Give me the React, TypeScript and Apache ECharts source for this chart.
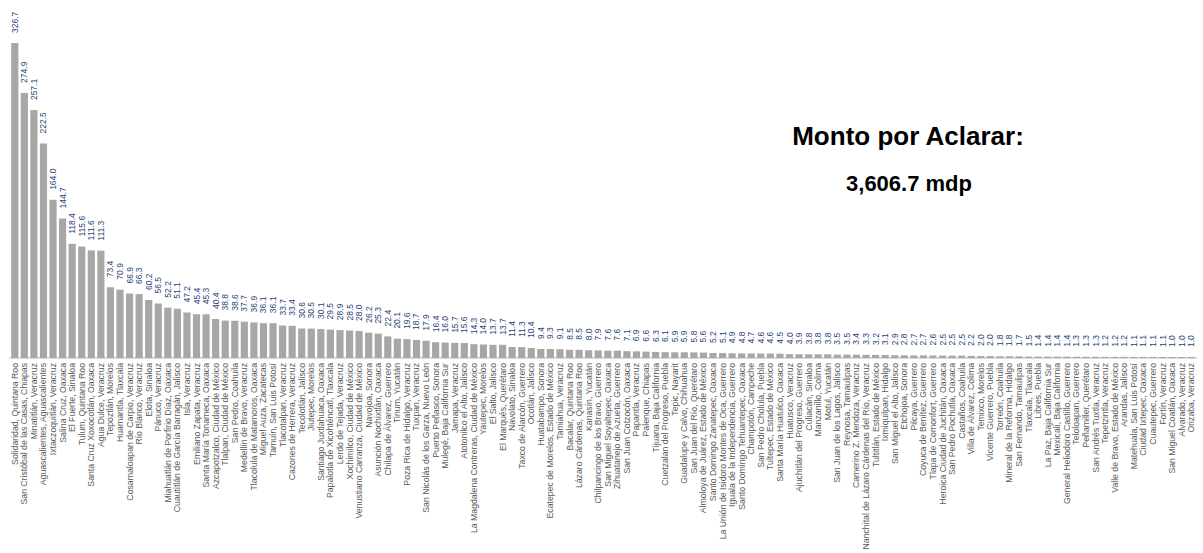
import React, { useEffect, useRef } from "react";
import * as echarts from "echarts";

// Municipalities, ordered by amount pending clarification (millions of pesos)
const municipios: string[] = [
  "Solidaridad, Quintana Roo",
  "San Cristóbal de las Casas, Chiapas",
  "Minatitlán, Veracruz",
  "Aguascalientes, Aguascalientes",
  "Ixtaczoquitlán, Veracruz",
  "Salina Cruz, Oaxaca",
  "El Fuerte, Sinaloa",
  "Tulum, Quintana Roo",
  "Santa Cruz Xoxocotlán, Oaxaca",
  "Agua Dulce, Veracruz",
  "Tepoztlán, Morelos",
  "Huamantla, Tlaxcala",
  "Cosamaloapan de Carpio, Veracruz",
  "Río Blanco, Veracruz",
  "Elota, Sinaloa",
  "Pánuco, Veracruz",
  "Miahuatlán de Porfirio Díaz, Oaxaca",
  "Cuautitlán de García Barragán, Jalisco",
  "Isla, Veracruz",
  "Emiliano Zapata, Veracruz",
  "Santa María Tonameca, Oaxaca",
  "Azcapotzalco, Ciudad de México",
  "Tlalpan, Ciudad de México",
  "San Pedro, Coahuila",
  "Medellín de Bravo, Veracruz",
  "Tlacolula de Matamoros, Oaxaca",
  "Miguel Auza, Zacatecas",
  "Tamuín, San Luis Potosí",
  "Tlacotalpan, Veracruz",
  "Cazones de Herrera, Veracruz",
  "Tecolotlán, Jalisco",
  "Jiutepec, Morelos",
  "Santiago Juxtlahuaca, Oaxaca",
  "Papalotla de Xicohténcatl, Tlaxcala",
  "Lerdo de Tejada, Veracruz",
  "Xochimilco, Ciudad de México",
  "Venustiano Carranza, Ciudad de México",
  "Navojoa, Sonora",
  "Asunción Nochixtlán, Oaxaca",
  "Chilapa de Álvarez, Guerrero",
  "Tinum, Yucatán",
  "Poza Rica de Hidalgo, Veracruz",
  "Tuxpan, Veracruz",
  "San Nicolás de los Garza, Nuevo León",
  "Puerto Peñasco, Sonora",
  "Mulegé, Baja California Sur",
  "Jamapa, Veracruz",
  "Atotonilco el Alto, Jalisco",
  "La Magdalena Contreras, Ciudad de México",
  "Yautepec, Morelos",
  "El Salto, Jalisco",
  "El Marqués, Querétaro",
  "Navolato, Sinaloa",
  "Taxco de Alarcón, Guerrero",
  "Ocotlán, Jalisco",
  "Huatabampo, Sonora",
  "Ecatepec de Morelos, Estado de México",
  "Tamiahua, Veracruz",
  "Bacalar, Quintana Roo",
  "Lázaro Cárdenas, Quintana Roo",
  "Kanasín, Yucatán",
  "Chilpancingo de los Bravo, Guerrero",
  "San Miguel Soyaltepec, Oaxaca",
  "Zihuatanejo de Azueta, Guerrero",
  "San Juan Cotzocón, Oaxaca",
  "Papantla, Veracruz",
  "Palenque, Chiapas",
  "Tijuana, Baja California",
  "Cuetzalan del Progreso, Puebla",
  "Tepic, Nayarit",
  "Guadalupe y Calvo, Chihuahua",
  "San Juan del Río, Querétaro",
  "Almoloya de Juárez, Estado de México",
  "Santo Domingo Zanatepec, Oaxaca",
  "La Unión de Isidoro Montes de Oca, Guerrero",
  "Iguala de la Independencia, Guerrero",
  "Santo Domingo Tehuantepec, Oaxaca",
  "Champotón, Campeche",
  "San Pedro Cholula, Puebla",
  "Tultepec, Estado de México",
  "Santa María Huatulco, Oaxaca",
  "Huatusco, Veracruz",
  "Ajuchitlán del Progreso, Guerrero",
  "Culiacán, Sinaloa",
  "Manzanillo, Colima",
  "Motul, Yucatán",
  "San Juan de los Lagos, Jalisco",
  "Reynosa, Tamaulipas",
  "Camerino Z. Mendoza, Veracruz",
  "Nanchital de Lázaro Cárdenas del Río, Veracruz",
  "Tultitlán, Estado de México",
  "Ixmiquilpan, Hidalgo",
  "San Miguel el Alto, Jalisco",
  "Etchojoa, Sonora",
  "Pilcaya, Guerrero",
  "Coyuca de Benítez, Guerrero",
  "Tlapa de Comonfort, Guerrero",
  "Heroica Ciudad de Juchitán, Oaxaca",
  "San Pedro Pochutla, Oaxaca",
  "Castaños, Coahuila",
  "Villa de Álvarez, Colima",
  "Temixco, Morelos",
  "Vicente Guerrero, Puebla",
  "Torreón, Coahuila",
  "Mineral de la Reforma, Hidalgo",
  "San Fernando, Tamaulipas",
  "Tlaxcala, Tlaxcala",
  "Libres, Puebla",
  "La Paz, Baja California Sur",
  "Mexicali, Baja California",
  "General Heliodoro Castillo, Guerrero",
  "Teloloapan, Guerrero",
  "Peñamiller, Querétaro",
  "San Andrés Tuxtla, Veracruz",
  "Tepetzintla, Veracruz",
  "Valle de Bravo, Estado de México",
  "Arandas, Jalisco",
  "Matehuala, San Luis Potosí",
  "Ciudad Ixtepec, Oaxaca",
  "Cuautepec, Guerrero",
  "Fortín, Veracruz",
  "San Miguel Coatlán, Oaxaca",
  "Alvarado, Veracruz",
  "Orizaba, Veracruz",
];

const montos: number[] = [
  326.7, 274.9, 257.1, 222.5, 164.0, 144.7, 118.4, 115.6, 111.6, 111.3,
  73.4, 70.9, 66.9, 66.3, 60.2, 56.5, 52.2, 51.1, 47.2, 45.4,
  45.3, 40.4, 38.8, 38.6, 37.7, 36.9, 36.1, 36.1, 33.7, 33.4,
  30.6, 30.5, 30.1, 29.5, 28.9, 28.5, 28.0, 26.2, 25.3, 22.4,
  20.1, 19.6, 18.7, 17.9, 16.4, 16.0, 15.7, 15.6, 14.3, 14.0,
  13.7, 13.7, 11.4, 11.3, 10.4, 9.4, 9.3, 9.1, 8.5, 8.5,
  8.0, 7.9, 7.6, 7.6, 7.1, 6.9, 6.6, 6.3, 6.1, 5.9,
  5.9, 5.8, 5.6, 5.2, 5.1, 4.9, 4.8, 4.7, 4.6, 4.6,
  4.5, 4.0, 3.9, 3.8, 3.8, 3.8, 3.5, 3.5, 3.4, 3.3,
  3.2, 3.1, 2.9, 2.8, 2.7, 2.7, 2.6, 2.5, 2.5, 2.5,
  2.2, 2.0, 2.0, 1.8, 1.8, 1.7, 1.5, 1.4, 1.4, 1.4,
  1.4, 1.3, 1.3, 1.3, 1.2, 1.2, 1.2, 1.1, 1.1, 1.1,
  1.1, 1.0, 1.0, 1.0,
];

const tituloLinea1 = "Monto por Aclarar:";
const tituloLinea2 = "3,606.7 mdp";

const FONT = "'Liberation Sans', Arial, sans-serif";

export default function App() {
  const ref = useRef<HTMLDivElement>(null);

  useEffect(() => {
    if (!ref.current) return;
    const chart = echarts.init(ref.current, undefined, { renderer: "svg" });
    chart.setOption({
      animation: false,
      backgroundColor: "#ffffff",
      grid: { left: 10, right: 7, top: 20.5, bottom: 195, containLabel: false },
      graphic: [
        {
          type: "text",
          x: 908,
          y: 136,
          style: {
            text: tituloLinea1,
            textAlign: "center",
            textVerticalAlign: "middle",
            fontFamily: FONT,
            fontSize: 26,
            fontWeight: "bold",
            fill: "#000000",
          },
        },
        {
          type: "text",
          x: 909,
          y: 183,
          style: {
            text: tituloLinea2,
            textAlign: "center",
            textVerticalAlign: "middle",
            fontFamily: FONT,
            fontSize: 22,
            fontWeight: "bold",
            fill: "#000000",
          },
        },
      ],
      xAxis: {
        type: "category",
        data: municipios,
        axisLine: { show: true, lineStyle: { color: "#d9d9d9", width: 2 } },
        axisTick: { show: false },
        axisLabel: {
          interval: 0,
          rotate: 90,
          margin: 5,
          fontFamily: FONT,
          fontSize: 8.7,
          color: "#595959",
        },
      },
      yAxis: {
        type: "value",
        min: 0,
        max: 350,
        show: false,
        splitLine: { show: false },
      },
      series: [
        {
          type: "bar",
          data: montos,
          barCategoryGap: "25%",
          itemStyle: { color: "#a9a6a6" },
          label: {
            show: true,
            position: "top",
            rotate: 90,
            align: "left",
            verticalAlign: "middle",
            distance: 10,
            fontFamily: FONT,
            fontSize: 8.5,
            color: "#1f3f77",
            formatter: (p: any) => Number(p.value).toFixed(1),
          },
        },
      ],
    });
    return () => chart.dispose();
  }, []);

  return (
    <div
      ref={ref}
      style={{ position: "fixed", left: 0, top: 0, width: 1203, height: 553 }}
    />
  );
}
